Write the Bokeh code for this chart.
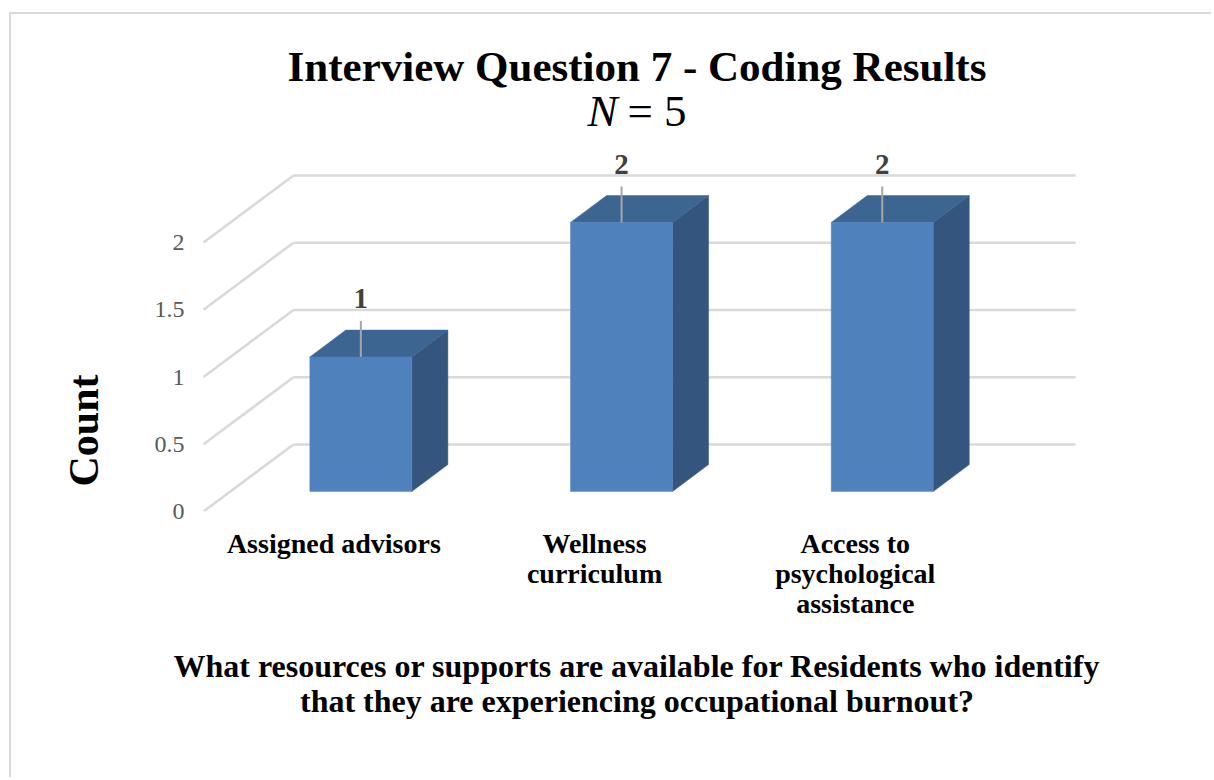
from bokeh.plotting import figure
from bokeh.models import FixedTicker, NumeralTickFormatter, Title
from bokeh.core.properties import value
from bokeh.embed import file_html
from bokeh.resources import INLINE

# ---------------- data ----------------
categories = ["Assigned advisors", "Wellness curriculum", "Access to psychological assistance"]
category_labels = ["Assigned advisors", "Wellness\ncurriculum", "Access to\npsychological\nassistance"]
counts = [1, 2, 2]
y_ticks = [0, 0.5, 1, 1.5, 2]
title_text = "Interview Question 7 - Coding Results"
subtitle_symbol = "N"
subtitle_value = "= 5"
x_title = ("What resources or supports are available for Residents who identify\n"
           "that they are experiencing occupational burnout?")
y_title = "Count"

# ---------------- style ----------------
SERIF = "Liberation Serif"
PX_PER_CAT = 260.7          # horizontal pixels per category
PX_PER_UNIT = 134.5         # vertical pixels per count unit
DEPTH_X = 90 / PX_PER_CAT   # depth of the floor, in category units
DEPTH_Y = 67 / PX_PER_UNIT  # depth of the floor, in value units
BAR_W = 102 / PX_PER_CAT
F0, F1 = 0.30, 0.70         # bar front / back depth fractions
GRID = "#d9d9d9"
FRONT = "#4f81bd"
TOP = "#3d6592"
SIDE = "#34557e"

# canvas sits at page (11, 14), inside a light left/top border
W, H = 1202, 765
L, R, T, B = 185, 1066, 80, 497
FLOOR_LEFT = 192            # canvas x of the front-left floor corner
x_start = (L - FLOOR_LEFT) / PX_PER_CAT
x_end = x_start + (R - L) / PX_PER_CAT
y_start = 0
y_end = (B - T) / PX_PER_UNIT


def px_y(cy):  # canvas y -> data y
    return (B - cy) / PX_PER_UNIT


p = figure(width=W, height=H, x_range=(x_start, x_end), y_range=(y_start, y_end),
           output_backend="svg", toolbar_location=None,
           min_border_left=L, min_border_right=W - R, min_border_top=T, min_border_bottom=H - B)
p.styles = {"margin-left": "9px", "margin-top": "12px",
            "border-left": "2px solid #d9d9d9", "border-top": "2px solid #d9d9d9"}
p.outline_line_color = None
p.xgrid.visible = False
p.ygrid.visible = False
p.background_fill_color = "white"
p.border_fill_color = "white"

# title
p.title.text = title_text
p.title.text_font = SERIF
p.title.text_font_size = "43px"
p.title.text_font_style = "bold"
p.title.text_color = "black"
p.title.align = "center"

# axes
n = len(categories)
xa = p.xaxis[0]
xa.ticker = FixedTicker(ticks=[i + 0.5 for i in range(n)])
xa.major_label_overrides = {i + 0.5: category_labels[i] for i in range(n)}
xa.axis_line_color = None
xa.major_tick_line_color = None
xa.minor_tick_line_color = None
xa.major_tick_out = 0
xa.major_tick_in = 0
xa.major_label_standoff = 16
xa.major_label_text_font = SERIF
xa.major_label_text_font_size = "28px"
xa.major_label_text_font_style = "bold"
xa.major_label_text_color = "black"
xa.major_label_text_line_height = 0.97
xa.axis_label = x_title
xa.axis_label_text_font = SERIF
xa.axis_label_text_font_size = "32px"
xa.axis_label_text_font_style = "bold"
xa.axis_label_text_color = "black"
xa.axis_label_text_line_height = 0.975
xa.axis_label_standoff = 26

ya = p.yaxis[0]
ya.ticker = FixedTicker(ticks=y_ticks)
ya.formatter = NumeralTickFormatter(format="0.[0]")
ya.axis_line_color = None
ya.major_tick_line_color = None
ya.minor_tick_line_color = None
ya.major_tick_out = 0
ya.major_tick_in = 0
ya.major_label_standoff = 12
ya.major_label_text_font = SERIF
ya.major_label_text_font_size = "24px"
ya.major_label_text_color = "#595959"

# y-axis title as a side title, starting a little above the floor like the original
count_title = Title(text=y_title, align="left", offset=25,
                    text_font=SERIF, text_font_size="42px", text_font_style="bold",
                    text_color="black")
if "standoff" in Title.properties():
    count_title.standoff = 90
p.add_layout(count_title, "left")

# walls: side-wall diagonals and back-wall gridlines
p.segment(x0=[0] * len(y_ticks), y0=y_ticks,
          x1=[DEPTH_X] * len(y_ticks), y1=[v + DEPTH_Y for v in y_ticks],
          line_color=GRID, line_width=2.5)
p.segment(x0=[DEPTH_X] * len(y_ticks), y0=[v + DEPTH_Y for v in y_ticks],
          x1=[n + DEPTH_X] * len(y_ticks), y1=[v + DEPTH_Y for v in y_ticks],
          line_color=GRID, line_width=2.5)

# 3-D bars
dx0, dy0 = F0 * DEPTH_X, F0 * DEPTH_Y
dx1, dy1 = F1 * DEPTH_X, F1 * DEPTH_Y
lefts = [i + 0.5 - BAR_W / 2 for i in range(n)]
rights = [i + 0.5 + BAR_W / 2 for i in range(n)]
top_xs = [[l + dx0, r + dx0, r + dx1, l + dx1] for l, r in zip(lefts, rights)]
top_ys = [[c + dy0, c + dy0, c + dy1, c + dy1] for c in counts]
side_xs = [[r + dx0, r + dx1, r + dx1, r + dx0] for r in rights]
side_ys = [[dy0, dy1, c + dy1, c + dy0] for c in counts]
p.patches(xs=side_xs, ys=side_ys, fill_color=SIDE, line_color=SIDE, line_width=0.5)
p.patches(xs=top_xs, ys=top_ys, fill_color=TOP, line_color=TOP, line_width=0.5)
p.quad(left=[l + dx0 for l in lefts], right=[r + dx0 for r in rights],
       bottom=[dy0] * n, top=[c + dy0 for c in counts],
       fill_color=FRONT, line_color=FRONT, line_width=0.5)

# data labels with leader lines
centers = [i + 0.5 + dx0 for i in range(n)]
p.segment(x0=centers, y0=[c + dy0 for c in counts], x1=centers,
          y1=[c + dy0 + 36 / PX_PER_UNIT for c in counts],
          line_color="#a6a6a6", line_width=2)
p.text(x=centers, y=[c + dy0 + 58 / PX_PER_UNIT for c in counts],
       text=[str(c) for c in counts], text_align="center", text_baseline="middle",
       text_font=value(SERIF), text_font_size="29px", text_font_style="bold",
       text_color="#404040")

# subtitle "N = 5" (italic N)
x_mid = (x_start + x_end) / 2
fs = 45
w_sym = 0.667 * fs
gap = 10
w_val = 1.314 * fs
split_x = x_mid + (w_sym - (w_sym + gap + w_val) / 2) / PX_PER_CAT
sub_y = px_y(96)
p.text(x=[split_x], y=[sub_y], text=[subtitle_symbol], text_align="right",
       text_baseline="middle", text_font=value(SERIF), text_font_size=f"{fs}px",
       text_font_style="italic", text_color="black")
p.text(x=[split_x + gap / PX_PER_CAT], y=[sub_y], text=[subtitle_value], text_align="left",
       text_baseline="middle", text_font=value(SERIF), text_font_size=f"{fs}px",
       text_font_style="normal", text_color="black")

open("out.html", "w").write(file_html(p, INLINE))
